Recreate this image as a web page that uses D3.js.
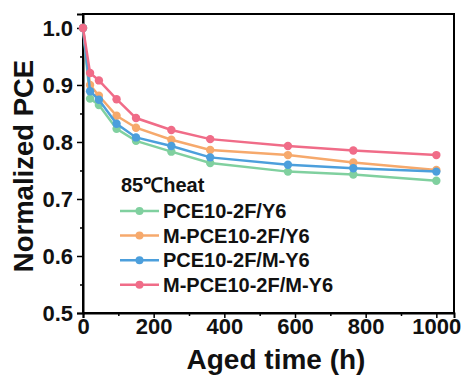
<!DOCTYPE html>
<html>
<head>
<meta charset="utf-8">
<script src="https://cdn.jsdelivr.net/npm/d3@7"></script>
<style>
  body { margin: 0; background: #fff; }
  svg { display: block; font-family: "Liberation Sans", Arial, sans-serif; font-weight: bold; }
</style>
</head>
<body>
<div id="chart"></div>
<script>
const W = 462, H = 379;
const MARGIN = { top: 14, right: 8, bottom: 66, left: 83 };

// aged time (h)
const hours = [0, 20, 45, 95, 150, 250, 360, 580, 765, 1000];
const seriesNames = ['PCE10-2F/Y6', 'M-PCE10-2F/Y6', 'PCE10-2F/M-Y6', 'M-PCE10-2F/M-Y6'];
const seriesColors = ['#80d09f', '#f6a96c', '#4c9fdc', '#f06c88'];
const pce1 = [1.0, 0.876, 0.865, 0.823, 0.802, 0.783, 0.763, 0.748, 0.743, 0.732];
const pce2 = [1.0, 0.900, 0.881, 0.846, 0.825, 0.804, 0.786, 0.777, 0.764, 0.751];
const pce3 = [1.0, 0.889, 0.874, 0.832, 0.808, 0.793, 0.773, 0.760, 0.754, 0.748];
const pce4 = [1.0, 0.921, 0.908, 0.875, 0.842, 0.821, 0.805, 0.793, 0.785, 0.777];
const seriesValues = [pce1, pce2, pce3, pce4];

const xTicks = [0, 200, 400, 600, 800, 1000];
const xMinor = [100, 300, 500, 700, 900];
const yTicks = [0.5, 0.6, 0.7, 0.8, 0.9, 1.0];
const yMinor = [0.55, 0.65, 0.75, 0.85, 0.95];
const legendTitle = '85℃heat';

const svg = d3.select('#chart').append('svg')
  .attr('width', W).attr('height', H);

const x = d3.scaleLinear().domain([0, 1050]).range([MARGIN.left, W - MARGIN.right]);
const y = d3.scaleLinear().domain([0.5, 1.0245]).range([H - MARGIN.bottom, MARGIN.top]);

// frame
svg.append('rect')
  .attr('x', MARGIN.left).attr('y', MARGIN.top)
  .attr('width', W - MARGIN.right - MARGIN.left)
  .attr('height', H - MARGIN.bottom - MARGIN.top)
  .attr('fill', 'none').attr('stroke', '#000').attr('stroke-width', 2);

// axes
svg.append('g')
  .attr('transform', `translate(0,${H - MARGIN.bottom})`)
  .call(d3.axisBottom(x).tickValues(xTicks).tickSize(5).tickPadding(0).tickFormat(d3.format('d')));
svg.append('g')
  .attr('transform', `translate(0,${H - MARGIN.bottom})`)
  .call(d3.axisBottom(x).tickValues(xMinor).tickSize(3).tickFormat(''))
  .call(g => g.select('.domain').remove());

svg.append('g')
  .attr('transform', `translate(${MARGIN.left},0)`)
  .call(d3.axisLeft(y).tickValues(yTicks).tickSize(6).tickPadding(4).tickFormat(d3.format('.1f')));
svg.append('g')
  .attr('transform', `translate(${MARGIN.left},0)`)
  .call(d3.axisLeft(y).tickValues(yMinor).tickSize(3).tickFormat(''))
  .call(g => g.select('.domain').remove());

svg.selectAll('.domain').attr('stroke-width', 2);
svg.selectAll('.tick line').attr('stroke-width', 1.5);
svg.selectAll('.tick text')
  .attr('font-family', '"Liberation Sans", Arial, sans-serif')
  .attr('font-weight', 'bold').attr('font-size', 22).attr('fill', '#111');

// axis titles
svg.append('text')
  .attr('x', 276).attr('y', 369)
  .attr('text-anchor', 'middle').attr('font-size', 28).attr('fill', '#111')
  .text('Aged time (h)');
svg.append('text')
  .attr('transform', 'translate(33,166) rotate(-90)')
  .attr('text-anchor', 'middle').attr('font-size', 27.5).attr('fill', '#111')
  .text('Normalized PCE');

// lines
const line = d3.line().x((d, i) => x(hours[i])).y(d => y(d));
seriesValues.forEach((vals, si) => {
  const g = svg.append('g');
  g.append('path')
    .datum(vals)
    .attr('fill', 'none')
    .attr('stroke', seriesColors[si])
    .attr('stroke-width', 2.5)
    .attr('d', line);
  g.selectAll('circle')
    .data(vals)
    .enter()
    .append('circle')
    .attr('cx', (d, i) => x(hours[i]))
    .attr('cy', d => y(d))
    .attr('r', 4.2)
    .attr('fill', seriesColors[si]);
});

// legend
svg.append('text')
  .attr('x', 121).attr('y', 192)
  .attr('font-size', 20).attr('fill', '#111')
  .text(legendTitle);

const legend = svg.selectAll('.legend-row')
  .data(seriesNames)
  .enter()
  .append('g')
  .attr('class', 'legend-row')
  .attr('transform', (d, i) => `translate(0,${211 + i * 24.6})`);
legend.append('line')
  .attr('x1', 120).attr('x2', 159)
  .attr('stroke', (d, i) => seriesColors[i]).attr('stroke-width', 2.5);
legend.append('circle')
  .attr('cx', 139.5).attr('r', 4)
  .attr('fill', (d, i) => seriesColors[i]);
legend.append('text')
  .attr('x', 163).attr('y', 7)
  .attr('font-size', 20).attr('fill', '#111')
  .text(d => d);
</script>
</body>
</html>
